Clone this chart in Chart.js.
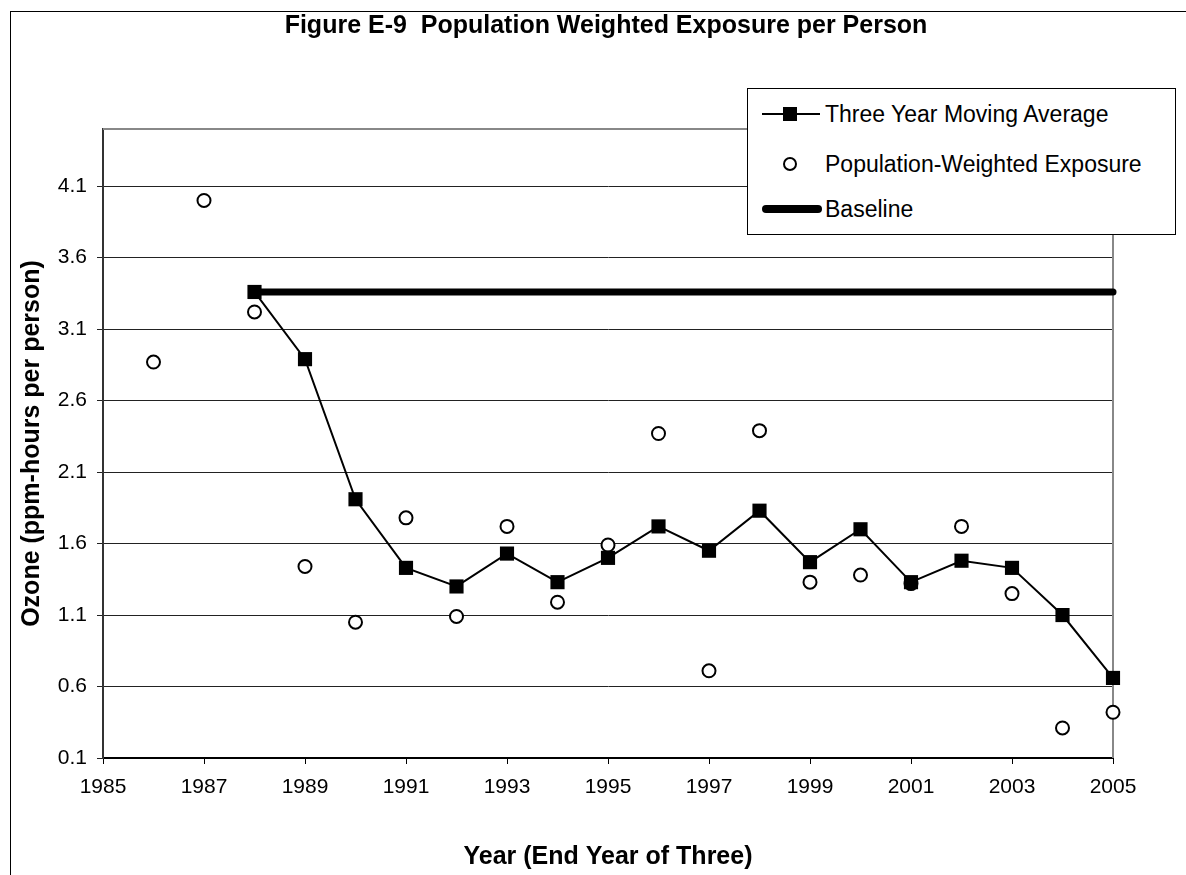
<!DOCTYPE html>
<html>
<head>
<meta charset="utf-8">
<title>Figure E-9 Population Weighted Exposure per Person</title>
<script src="https://cdn.jsdelivr.net/npm/chart.js@4.4.0/dist/chart.umd.min.js"></script>
<style>
    html, body { margin: 0; padding: 0; background: #fff; }
    #wrap { position: relative; width: 1186px; height: 875px; overflow: hidden; }
    #chart { display: block; }
    #title {
        position: absolute; left: 206px; width: 800px; top: 9px; line-height: 30px;
        text-align: center; white-space: nowrap;
        font-family: "Liberation Sans", Arial, sans-serif; font-size: 25px; font-weight: bold; color: #000;
    }
    #legend {
        position: absolute; left: 747px; top: 88px; width: 429px; height: 147px;
        box-sizing: border-box; border: 1px solid #000; background: #fff;
        font-family: "Liberation Sans", Arial, sans-serif; font-size: 23px; color: #000;
    }
    .item { position: absolute; left: 0; height: 30px; width: 100%; }
    .item .mark { position: absolute; left: 14px; top: 0; width: 60px; height: 30px; }
    .item .txt { position: absolute; left: 77px; top: 1px; white-space: nowrap; line-height: 28px; }
    .line { position: absolute; left: 0; width: 58px; top: 14px; height: 2px; background: #000; }
    .square { position: absolute; left: 21px; top: 8px; width: 14px; height: 14px; background: #000; }
    .circle { position: absolute; left: 21px; top: 8px; width: 10px; height: 10px; border: 2px solid #000; border-radius: 50%; background: #fff; }
    .thick { position: absolute; left: 0; width: 60px; top: 11px; height: 8px; border-radius: 4px; background: #000; }
</style>
</head>
<body>
<div id="wrap">
    <canvas id="chart" width="1186" height="875"></canvas>
    <div id="title">Figure E-9&nbsp; Population Weighted Exposure per Person</div>
    <div id="legend"></div>
</div>
<script>
// Chart data
const avgYears = [1988, 1989, 1990, 1991, 1992, 1993, 1994, 1995, 1996, 1997, 1998, 1999, 2000, 2001, 2002, 2003, 2004, 2005];
const avgValues = [3.36, 2.89, 1.91, 1.43, 1.30, 1.53, 1.33, 1.50, 1.72, 1.55, 1.83, 1.47, 1.70, 1.33, 1.48, 1.43, 1.10, 0.66];

const exposureYears = [1986, 1987, 1988, 1989, 1990, 1991, 1992, 1993, 1994, 1995, 1996, 1997, 1998, 1999, 2000, 2001, 2002, 2003, 2004, 2005];
const exposureValues = [2.87, 4.00, 3.22, 1.44, 1.05, 1.78, 1.09, 1.72, 1.19, 1.59, 2.37, 0.71, 2.39, 1.33, 1.38, 1.32, 1.72, 1.25, 0.31, 0.42];

const baselineYears = [1988, 2005];
const baselineValues = [3.36, 3.36];

const xTicks = [1985, 1987, 1989, 1991, 1993, 1995, 1997, 1999, 2001, 2003, 2005];
const yTicks = [0.1, 0.6, 1.1, 1.6, 2.1, 2.6, 3.1, 3.6, 4.1];

const FONT = '"Liberation Sans", Arial, sans-serif';

const toPoints = (xs, ys) => xs.map((x, i) => ({ x: x, y: ys[i] }));

// Outer frame and plot frame (top / right edges in gray)
const framePlugin = {
    id: 'frames',
    beforeDraw(chart) {
        const ctx = chart.ctx;
        ctx.save();
        ctx.strokeStyle = '#000';
        ctx.lineWidth = 1;
        ctx.strokeRect(10.5, 11.5, 3000, 3000);
        ctx.restore();
    },
    beforeDatasetsDraw(chart) {
        const { ctx, chartArea } = chart;
        ctx.save();
        ctx.strokeStyle = '#888';
        ctx.lineWidth = 2;
        ctx.beginPath();
        ctx.moveTo(chartArea.left, chartArea.top);
        ctx.lineTo(chartArea.right, chartArea.top);
        ctx.lineTo(chartArea.right, chartArea.bottom);
        ctx.stroke();
        ctx.restore();
    }
};

const chart = new Chart(document.getElementById('chart'), {
    type: 'line',
    data: {
        datasets: [
            {
                label: 'Three Year Moving Average',
                data: toPoints(avgYears, avgValues),
                borderColor: '#000',
                borderWidth: 2,
                backgroundColor: '#000',
                pointStyle: 'rect',
                pointRadius: 10,
                pointBorderWidth: 0,
                pointBackgroundColor: '#000',
                tension: 0,
                clip: false,
                legendMark: 'avg'
            },
            {
                label: 'Population-Weighted Exposure',
                data: toPoints(exposureYears, exposureValues),
                showLine: false,
                pointStyle: 'circle',
                pointRadius: 6.5,
                pointBorderWidth: 2,
                pointBorderColor: '#000',
                pointBackgroundColor: '#fff',
                clip: false,
                legendMark: 'dot'
            },
            {
                label: 'Baseline',
                data: toPoints(baselineYears, baselineValues),
                borderColor: '#000',
                borderWidth: 7,
                borderCapStyle: 'round',
                pointRadius: 0,
                clip: false,
                legendMark: 'thick'
            }
        ]
    },
    options: {
        responsive: false,
        animation: false,
        devicePixelRatio: 1,
        layout: { padding: { left: 13, right: 73, top: 129, bottom: 0 } },
        plugins: {
            legend: { display: false },
            tooltip: { enabled: false },
            title: { display: false }
        },
        scales: {
            x: {
                type: 'linear',
                min: 1985,
                max: 2005,
                afterBuildTicks: (axis) => { axis.ticks = xTicks.map(v => ({ value: v })); },
                afterFit: (axis) => { axis.height = 117; },
                ticks: {
                    color: '#000',
                    padding: 11,
                    font: { family: FONT, size: 21 },
                    callback: (v) => String(v)
                },
                grid: { drawOnChartArea: false, drawTicks: true, tickLength: 6, color: '#000' },
                border: { color: '#000', width: 2 },
                title: {
                    display: true,
                    text: 'Year (End Year of Three)',
                    color: '#000',
                    font: { family: FONT, size: 25, weight: 'bold' },
                    padding: { top: 4, bottom: 3 }
                }
            },
            y: {
                min: 0.1,
                max: 4.5,
                afterBuildTicks: (axis) => { axis.ticks = yTicks.map(v => ({ value: v })); },
                afterFit: (axis) => { axis.width = 90; },
                ticks: {
                    color: '#000',
                    padding: 10,
                    font: { family: FONT, size: 21 },
                    callback: (v) => v.toFixed(1)
                },
                grid: { color: '#222', lineWidth: 1, tickLength: 6 },
                border: { color: '#333', width: 2 },
                title: {
                    display: true,
                    text: 'Ozone (ppm-hours per person)',
                    color: '#000',
                    font: { family: FONT, size: 25, weight: 'bold' },
                    padding: { top: 4, bottom: 4 }
                }
            }
        }
    },
    plugins: [framePlugin]
});

// HTML legend built from the datasets
const legend = document.getElementById('legend');
const rowTops = [10, 60, 105];
chart.data.datasets.forEach((ds, i) => {
    const item = document.createElement('div');
    item.className = 'item';
    item.style.top = rowTops[i] + 'px';
    let mark = '';
    if (ds.legendMark === 'avg') {
        mark = '<div class="line"></div><div class="square"></div>';
    } else if (ds.legendMark === 'dot') {
        mark = '<div class="circle"></div>';
    } else {
        mark = '<div class="thick"></div>';
    }
    item.innerHTML = `<div class="mark">${mark}</div><div class="txt">${ds.label}</div>`;
    legend.appendChild(item);
});
</script>
</body>
</html>
